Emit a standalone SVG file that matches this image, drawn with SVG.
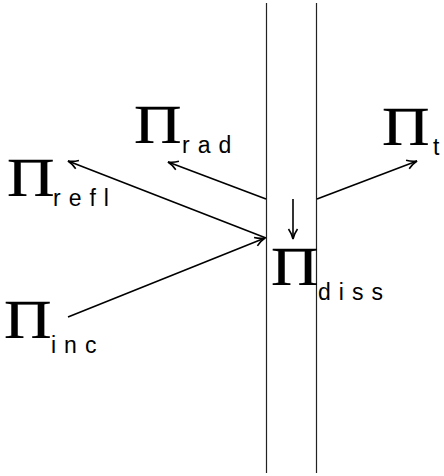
<svg xmlns="http://www.w3.org/2000/svg" width="444" height="476" viewBox="0 0 444 476">
<style>
.pi{font-family:"Liberation Serif","Times New Roman",serif;font-size:54px;fill:#000;stroke:#000;stroke-width:0.3}
.sub{font-family:"Liberation Sans",Arial,sans-serif;font-size:23px;letter-spacing:8px;fill:#000}
.wall{stroke:#222;stroke-width:1.2;fill:none}
.arr{stroke:#000;stroke-width:1.6;fill:none}
</style>
<defs>
<marker id="ah" markerUnits="userSpaceOnUse" markerWidth="14" markerHeight="12" refX="11" refY="6" orient="auto" viewBox="0 0 14 12">
<path d="M1,1.5 Q6,5 11,6 Q6,7 1,10.5" stroke="#000" stroke-width="1.6" fill="none"/>
</marker>
</defs>
<g id="slab">
<line class="wall" x1="266.5" y1="3" x2="266.5" y2="473"/>
<line class="wall" x1="316.5" y1="3" x2="316.5" y2="473"/>
</g>
<g id="connectors">
<line class="arr" x1="68" y1="317" x2="265" y2="238" marker-end="url(#ah)"/>
<line class="arr" x1="266" y1="238" x2="68" y2="161" marker-end="url(#ah)"/>
<line class="arr" x1="266" y1="199" x2="168" y2="162" marker-end="url(#ah)"/>
<line class="arr" x1="317" y1="199" x2="417" y2="161" marker-end="url(#ah)"/>
<line class="arr" x1="293" y1="199" x2="293" y2="239" marker-end="url(#ah)"/>
</g>
<g id="refl"><text class="pi" transform="translate(7,196) scale(1.22,1)">Π</text><text class="sub" x="53" y="206">refl</text></g>
<g id="rad"><text class="pi" transform="translate(134,143) scale(1.22,1)">Π</text><text class="sub" x="182" y="153">rad</text></g>
<g id="t"><text class="pi" transform="translate(382,145) scale(1.22,1)">Π</text><text class="sub" x="433" y="155" style="letter-spacing:0">t</text></g>
<g id="diss"><text class="pi" transform="translate(271,285) scale(1.22,1)">Π</text><text class="sub" x="318" y="300">diss</text></g>
<g id="inc"><text class="pi" transform="translate(4,338) scale(1.22,1)">Π</text><text class="sub" x="51" y="353">inc</text></g>
</svg>
